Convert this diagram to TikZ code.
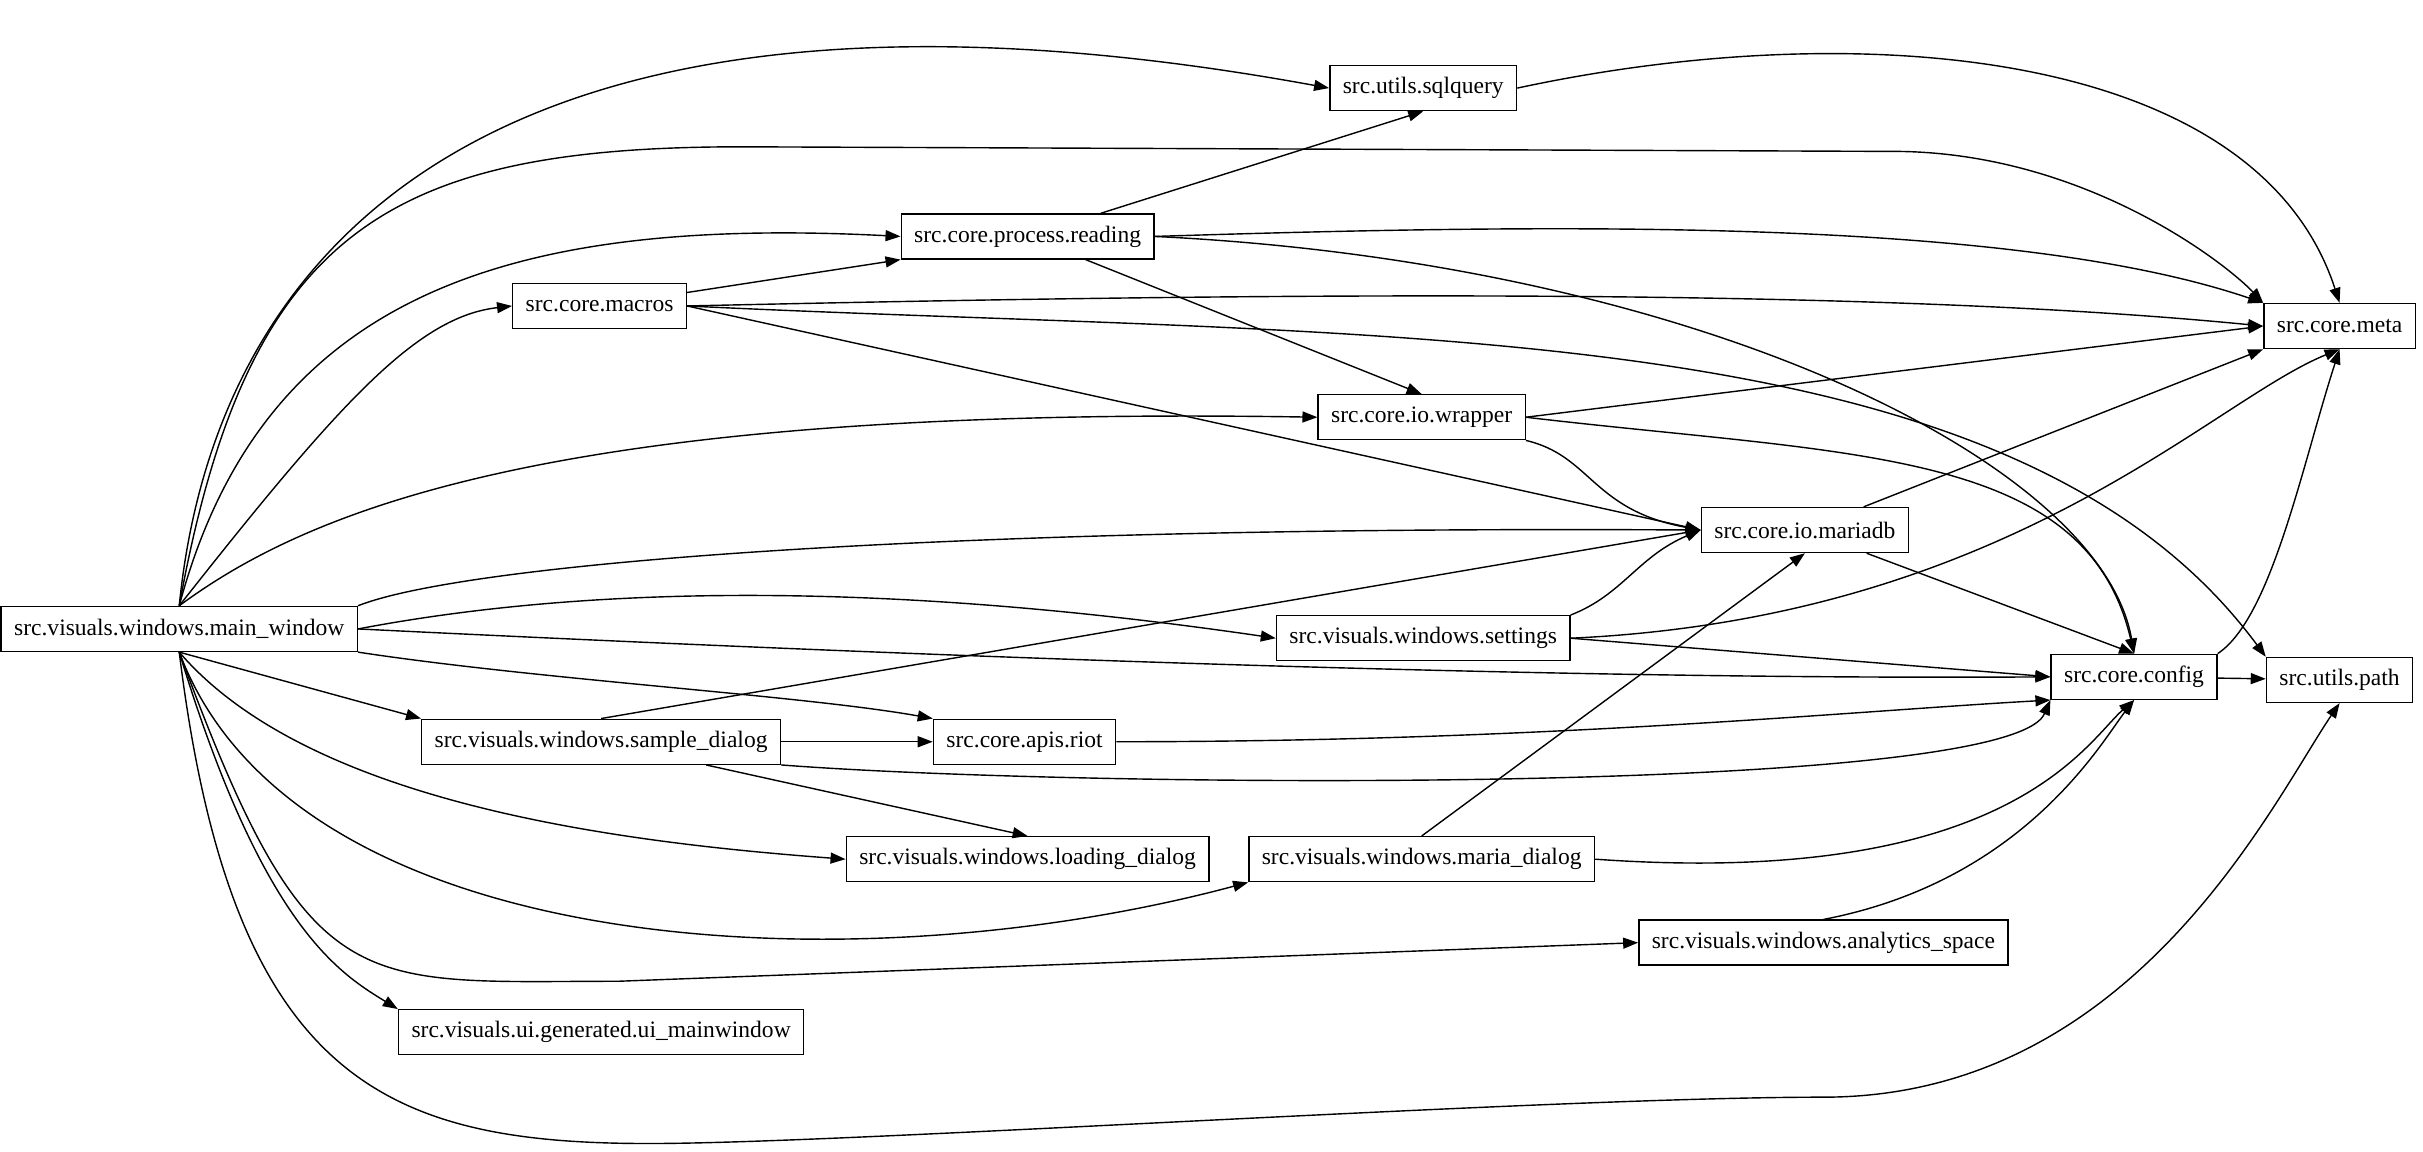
\documentclass[tikz,border=0pt]{standalone}
\usepackage{fontspec}
\setmainfont{Liberation Serif}
\usetikzlibrary{arrows.meta}
\begin{document}
\begin{tikzpicture}[x=0.015453cm, y=-0.015453cm,
    mod/.style={draw, rectangle, minimum height=0.45cm, inner xsep=0.13cm, font=\fontsize{6.7}{8}\selectfont},
    dep/.style={-{Triangle[length=1.5mm, width=1.1mm]}, line width=0.4pt}]
\useasboundingbox (0,0) rectangle (1568,745);
% modules
\node[mod] (mw)   at (116,407) {src.visuals.windows.main\_window};
\node[mod] (sq)   at (921,57)  {src.utils.sqlquery};
\node[mod] (pr)   at (665,153) {src.core.process.reading};
\node[mod] (mac)  at (388,198) {src.core.macros};
\node[mod] (wr)   at (920,270) {src.core.io.wrapper};
\node[mod] (md)   at (1168,343) {src.core.io.mariadb};
\node[mod] (set)  at (921,413) {src.visuals.windows.settings};
\node[mod] (cfg)  at (1381,438) {src.core.config};
\node[mod] (meta) at (1514,211) {src.core.meta};
\node[mod] (path) at (1514,440) {src.utils.path};
\node[mod] (sd)   at (389,480) {src.visuals.windows.sample\_dialog};
\node[mod] (riot) at (663,480) {src.core.apis.riot};
\node[mod] (ld)   at (665,556) {src.visuals.windows.loading\_dialog};
\node[mod] (mdg)  at (920,556) {src.visuals.windows.maria\_dialog};
\node[mod] (as)   at (1180,610) {src.visuals.windows.analytics\_space};
\node[mod] (ui)   at (389,668) {src.visuals.ui.generated.ui\_mainwindow};
% main window
\draw[dep] (mw.north) .. controls (140,150) and (330,-40) .. (sq.west);
\draw[dep] (mw.north) .. controls (160,150) and (250,95) .. (480,95) -- (1230,98) .. controls (1350,100) and (1440,170) .. (meta.north west);
\draw[dep] (mw.north) .. controls (170,190) and (330,140) .. (pr.west);
\draw[dep] (mw.north) .. controls (220,260) and (270,205) .. (mac.west);
\draw[dep] (mw.north) .. controls (200,330) and (360,262) .. (wr.west);
\draw[dep] (mw.north east) .. controls (300,365) and (600,340) .. (md.west);
\draw[dep] (mw.east) .. controls (400,375) and (600,380) .. (set.west);
\draw[dep] (mw.east) .. controls (600,425) and (1000,440) .. (cfg.west);
\draw[dep] (mw.south east) .. controls (350,440) and (520,450) .. (riot.north west);
\draw[dep] (mw.south) -- (sd.north west);
\draw[dep] (mw.south) .. controls (200,520) and (400,545) .. (ld.west);
\draw[dep] (mw.south) .. controls (190,620) and (550,640) .. (mdg.south west);
\draw[dep] (mw.south) .. controls (200,650) and (230,635) .. (400,635) -- (as.west);
\draw[dep] (mw.south) .. controls (170,600) and (220,630) .. (ui.north west);
\draw[dep] (mw.south) .. controls (150,700) and (250,740) .. (420,740) .. controls (550,740) and (1000,710) .. (1180,710) .. controls (1380,710) and (1470,520) .. (path.south);
% core
\draw[dep] (sq.east) .. controls (1200,10) and (1460,30) .. (meta.north);
\draw[dep] (pr) -- (sq.south);
\draw[dep] (pr.east) .. controls (1000,145) and (1300,140) .. (meta.north west);
\draw[dep] (pr) -- (wr.north);
\draw[dep] (pr.east) .. controls (1100,170) and (1360,300) .. (cfg.north);
\draw[dep] (mac) -- (pr.south west);
\draw[dep] (mac.east) .. controls (800,190) and (1200,185) .. (meta.west);
\draw[dep] (mac.east) .. controls (900,220) and (1300,200) .. (path.north west);
\draw[dep] (mac.east) -- (md.west);
\draw[dep] (wr.east) -- (meta.west);
\draw[dep] (wr.south east) .. controls (1030,295) and (1030,330) .. (md.west);
\draw[dep] (wr.east) .. controls (1200,295) and (1350,290) .. (cfg.north);
\draw[dep] (md) -- (meta.south west);
\draw[dep] (md) -- (cfg.north);
\draw[dep] (set.north east) .. controls (1050,385) and (1060,360) .. (md.west);
\draw[dep] (set.east) .. controls (1300,400) and (1430,260) .. (meta.south);
\draw[dep] (set.east) -- (cfg.west);
\draw[dep] (cfg.north east) .. controls (1470,400) and (1490,300) .. (meta.south);
\draw[dep] (cfg) -- (path);
% dialogs
\draw[dep] (sd.north) -- (md.west);
\draw[dep] (sd) -- (riot);
\draw[dep] (sd.south east) .. controls (700,510) and (1300,515) .. (cfg.south west);
\draw[dep] (sd) -- (ld.north);
\draw[dep] (riot.east) .. controls (1000,480) and (1200,460) .. (cfg.south west);
\draw[dep] (mdg.north) -- (md.south);
\draw[dep] (mdg.east) .. controls (1300,575) and (1350,480) .. (cfg.south);
\draw[dep] (as.north) .. controls (1310,570) and (1360,480) .. (cfg.south);
\end{tikzpicture}
\end{document}
